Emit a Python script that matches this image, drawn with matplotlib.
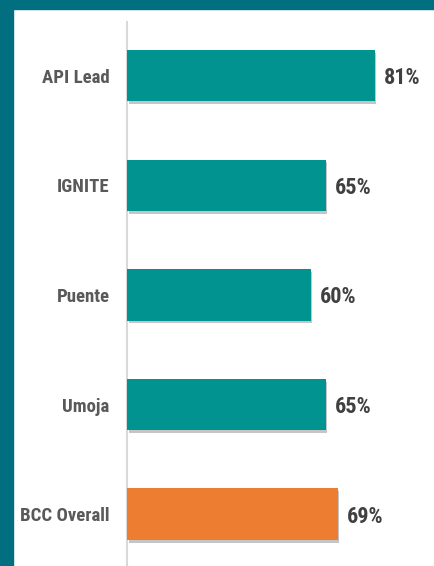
import matplotlib
matplotlib.use("Agg")
import matplotlib.pyplot as plt
from matplotlib.patches import Rectangle
import matplotlib.patheffects as pe

categories = ["API Lead", "IGNITE", "Puente", "Umoja", "BCC Overall"]
values = [81, 65, 60, 65, 69]
colors = ["#00938F", "#00938F", "#00938F", "#00938F", "#ED7D31"]

fam = ["Roboto Condensed", "Fira Sans Condensed", "DejaVu Sans"]

W, H = 434, 566
fig = plt.figure(figsize=(W / 100, H / 100), dpi=100)
fig.patch.set_facecolor("white")

border = "#026F80"
fig.add_artist(Rectangle((0, 0), 12.5 / W, 1, transform=fig.transFigure, color=border, zorder=0))
fig.add_artist(Rectangle((0, 1 - 8.5 / H), 1, 8.5 / H, transform=fig.transFigure, color=border, zorder=0))

left = 127.5 / W
right = (127.5 + 305) / W
top = 1 - 22 / H
bottom = 1 - 569 / H
ax = fig.add_axes([left, bottom, right - left, top - bottom])
ax.set_facecolor("none")

y = list(range(len(categories)))
ax.barh(y, values, height=0.47, color=colors, zorder=3,
        path_effects=[pe.SimplePatchShadow(offset=(1, -2), shadow_rgbFace="#808080", alpha=0.45), pe.Normal()])
ax.set_xlim(0, 100)
ax.set_ylim(len(categories) - 0.5, -0.49)

for yi, v in zip(y, values):
    ax.text(v + 3.0, yi, f"{v}%", va="center_baseline", ha="left", fontsize=16,
            fontweight="bold", color="#404040", family=fam)

ax.set_yticks(y)
ax.set_yticklabels(categories, fontsize=13.5, fontweight="bold", color="#595959", family=fam)
ax.tick_params(axis="y", length=0, pad=13)
ax.set_xticks([])
for s in ["top", "right", "bottom"]:
    ax.spines[s].set_visible(False)
ax.spines["left"].set_color("#D9D9D9")
ax.spines["left"].set_linewidth(1.5)

fig.savefig("out.png", dpi=100, facecolor="white")
